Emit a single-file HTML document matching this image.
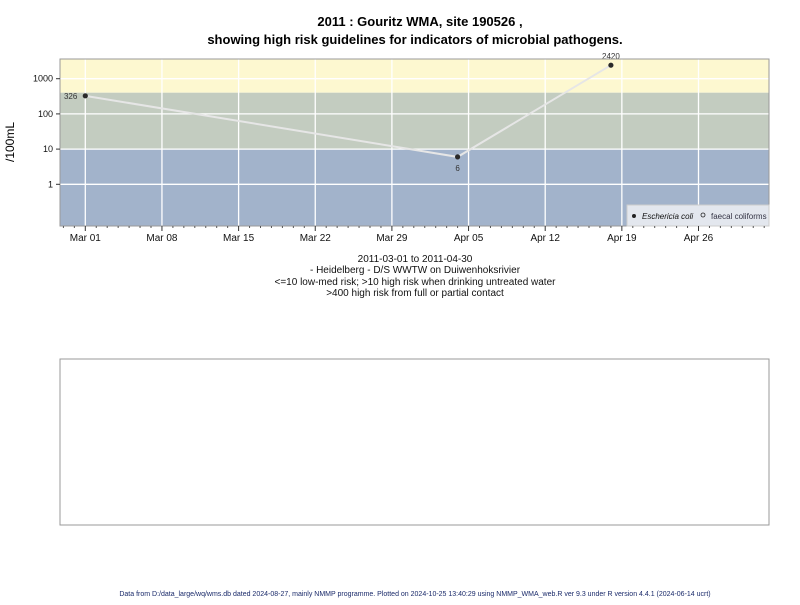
<!DOCTYPE html>
<html><head><meta charset="utf-8"><style>
body{margin:0;background:#fff;font-family:"Liberation Sans",Arial,sans-serif}
</style></head><body>
<svg id="s" width="800" height="600" xmlns="http://www.w3.org/2000/svg" font-family="Liberation Sans, Arial, sans-serif">
<rect width="800" height="600" fill="#fff"/>
<text x="420" y="26" text-anchor="middle" font-size="13" font-weight="bold">2011 : Gouritz WMA, site 190526 ,</text>
<text x="415" y="44" text-anchor="middle" font-size="13" font-weight="bold">showing high risk guidelines for indicators of microbial pathogens.</text>
<g id="bands"></g>
<g id="grid"></g>
<g id="series"></g>
<rect x="60" y="59" width="709" height="167" fill="none" stroke="#999"/>
<text transform="translate(14,142) rotate(-90)" text-anchor="middle" font-size="12">/100mL</text>
<g>
<rect x="627" y="205" width="142" height="21" fill="#e3e7ee" stroke="#ccc"/>
<circle cx="634" cy="216" r="2" fill="#222"/>
<text x="642" y="219" font-size="8" font-style="italic" fill="#111">Eschericia coli</text>
<circle cx="703" cy="215" r="2" fill="none" stroke="#222" stroke-width="0.8"/>
<text x="711" y="219" font-size="8" fill="#334">faecal coliforms</text>
</g>
<g font-size="10" text-anchor="middle" fill="#111">
<text x="415" y="262">2011-03-01 to 2011-04-30</text>
<text x="415" y="273">- Heidelberg - D/S WWTW on Duiwenhoksrivier</text>
<text x="415" y="285">&lt;=10 low-med risk; &gt;10 high risk when drinking untreated water</text>
<text x="415" y="296">&gt;400 high risk from full or partial contact</text>
</g>
<rect x="60" y="359" width="709" height="166" fill="none" stroke="#999"/>
<text x="415" y="596" text-anchor="middle" font-size="7" fill="#1a2a6a">Data from D:/data_large/wq/wms.db dated 2024-08-27, mainly NMMP programme. Plotted on 2024-10-25 13:40:29 using NMMP_WMA_web.R ver 9.3 under R version 4.4.1 (2024-06-14 ucrt)</text>
</svg>
<script>
const dates=["2011-03-01","2011-04-04","2011-04-18"];
const values=[326,6,2420];
const valueLabels=["326","6","2420"];
const yTicks=[1,10,100,1000];
const xTickLabels=["Mar 01","Mar 08","Mar 15","Mar 22","Mar 29","Apr 05","Apr 12","Apr 19","Apr 26"];
const bandLimits=[10,400];

const NS="http://www.w3.org/2000/svg";
const L=60,R=769,T=59,B=226;
const t0=Date.parse("2011-03-01");
const day=86400000;
function xs(d){return 85.3+(Date.parse(d)-t0)/day*10.95;}
function xd(i){return 85.3+i*10.95;}
function ys(v){return 184.3-Math.log10(v)*35.2;}
function mk(tag,attrs,parent){const e=document.createElementNS(NS,tag);for(const k in attrs)e.setAttribute(k,attrs[k]);parent.appendChild(e);return e;}
const bands=document.getElementById('bands'),grid=document.getElementById('grid'),ser=document.getElementById('series'),svg=document.getElementById('s');
let b;
b=mk('rect',{x:L,y:T,width:R-L,height:ys(bandLimits[1])-T,fill:'#fdf8d0'},bands);


b=mk('rect',{x:L,y:ys(bandLimits[1]),width:R-L,height:ys(bandLimits[0])-ys(bandLimits[1]),fill:'#c3ccc0'},bands);


b=mk('rect',{x:L,y:ys(bandLimits[0]),width:R-L,height:B-ys(bandLimits[0]),fill:'#a2b3cb'},bands);


yTicks.forEach(v=>{
  const y=ys(v);
  const g=mk('line',{x1:L,x2:R,y1:y,y2:y,stroke:'#fff','stroke-width':1.3},grid);
  
  
  mk('line',{x1:L-4,x2:L,y1:y,y2:y,stroke:'#333'},svg);
  const t=mk('text',{x:L-7,y:y+3,'text-anchor':'end','font-size':9,fill:'#111'},svg);
  t.textContent=v;
  
  
});
xTickLabels.forEach((lab,i)=>{
  const x=xd(i*7);
  const g=mk('line',{x1:x,x2:x,y1:T,y2:B,stroke:'#fff','stroke-width':1.3},grid);
  
  
  mk('line',{x1:x,x2:x,y1:B,y2:B+5,stroke:'#333'},svg);
  const t=mk('text',{x:x,y:B+15,'text-anchor':'middle','font-size':10,fill:'#111'},svg);
  t.textContent=lab;
  
  
});
for(let i=-2;i<=62;i++){const x=xd(i);if(x<L||x>R||i%7===0)continue;mk('line',{x1:x,x2:x,y1:B,y2:B+2,stroke:'#555'},svg);}
const pts=dates.map((d,i)=>xs(d)+','+ys(values[i])).join(' ');
const line=mk('polyline',{points:pts,fill:'none',stroke:'#e6e6e6','stroke-width':2},ser);


dates.forEach((d,i)=>{
  const x=xs(d),y=ys(values[i]);
  const p=mk('circle',{cx:x,cy:y,r:2.6,fill:'#2a2a2a'},ser);
  
  
  let tx=x,ty=y,anc='middle';
  if(i===0){tx=x-8;ty=y+3;anc='end';}else if(values[i]<values[i-1]){ty=y+14;}else{ty=y-6;}
  const t=mk('text',{x:tx,y:ty,'text-anchor':anc,'font-size':8,fill:'#333'},ser);
  t.textContent=valueLabels[i];
  
  
});
</script>
</body></html>
